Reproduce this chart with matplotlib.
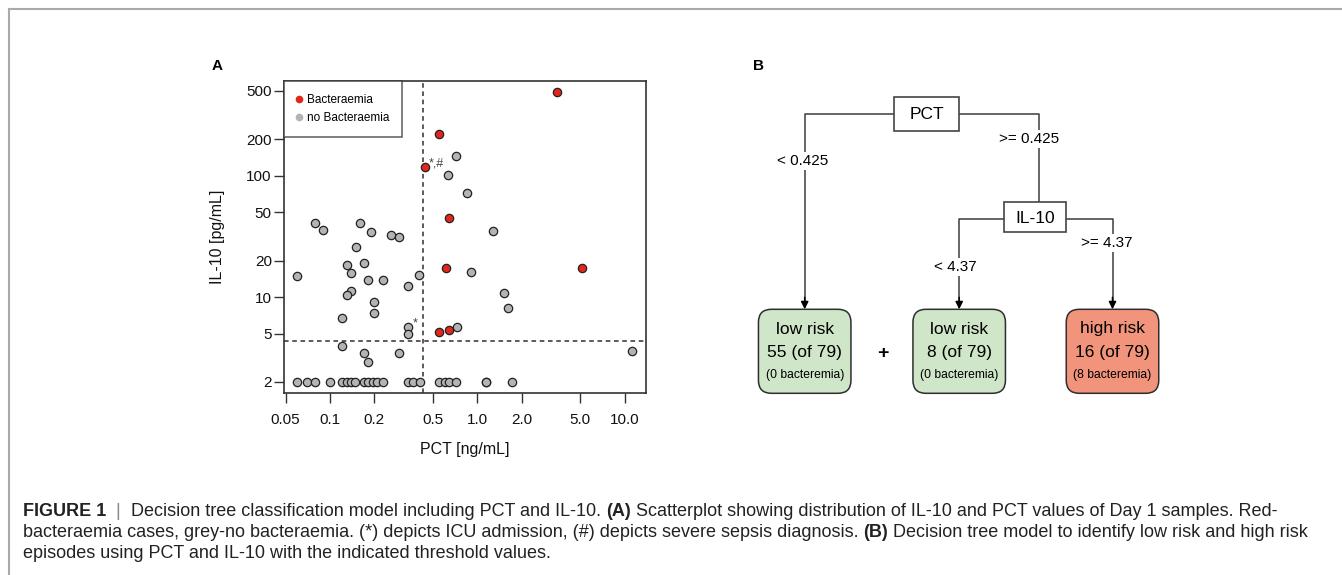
import matplotlib
matplotlib.use('Agg')
import matplotlib.pyplot as plt
from matplotlib.lines import Line2D
from matplotlib.patches import FancyBboxPatch, Rectangle

plt.rcParams['font.family'] = ['Liberation Sans', 'DejaVu Sans']

# ---- panel A data (PCT ng/mL, IL-10 pg/mL) ----
bact_pct = [3.48, 0.55, 0.44, 0.64, 0.61, 5.11, 0.55, 0.64]
bact_il10 = [487, 220, 119, 45.1, 17.2, 17.2, 5.14, 5.31]

nobact_pct = [0.717, 0.632, 0.847, 0.0795, 0.090, 0.160, 0.191, 0.259, 0.292, 1.285,
              0.150, 0.0594, 0.130, 0.140, 0.170, 0.180, 0.230, 0.402, 0.340, 0.902,
              0.140, 0.130, 0.200, 0.200, 1.51, 1.62, 0.120, 0.340, 0.340, 0.724,
              0.120, 0.169, 0.180, 0.292, 11.2,
              0.0594, 0.0694, 0.0795, 0.100, 0.120, 0.130, 0.140, 0.149, 0.170, 0.182,
              0.197, 0.210, 0.230, 0.337, 0.368, 0.408, 0.549, 0.600, 0.643, 0.717,
              1.15, 1.15, 1.72]
nobact_il10 = [145, 102, 72, 40.7, 35.4, 40.7, 34.1, 32.7, 31.2, 34.8,
               26.0, 14.8, 18.4, 15.9, 19.2, 13.7, 13.7, 15.2, 12.3, 16.0,
               11.3, 10.4, 9.15, 7.38, 10.9, 8.06, 6.67, 5.69, 4.92, 5.69,
               3.92, 3.45, 2.91, 3.45, 3.56,
               2, 2, 2, 2, 2, 2, 2, 2, 2, 2,
               2, 2, 2, 2, 2, 2, 2, 2, 2, 2,
               2, 2, 2]

pct_cut = 0.425
il10_cut = 4.37

x_ticks = [0.05, 0.1, 0.2, 0.5, 1.0, 2.0, 5.0, 10.0]
x_ticklabels = ['0.05', '0.1', '0.2', '0.5', '1.0', '2.0', '5.0', '10.0']
y_ticks = [2, 5, 10, 20, 50, 100, 200, 500]
y_ticklabels = ['2', '5', '10', '20', '50', '100', '200', '500']

# annotations: (pct, il10, text)
marks = [(0.44, 119, '*,#'), (0.34, 5.69, '*')]

# ---- panel B data ----
root_label = 'PCT'
split_label = 'IL-10'
edge_labels = ['< 0.425', '>= 0.425', '< 4.37', '>= 4.37']
leaf_titles = ['low risk', 'low risk', 'high risk']
leaf_counts = ['55 (of 79)', '8 (of 79)', '16 (of 79)']
leaf_bact = ['(0 bacteremia)', '(0 bacteremia)', '(8 bacteremia)']

caption = [
    [('FIGURE 1', 'bold', '#222222'), ('  |  ', 'normal', '#888888'),
     ('Decision tree classification model including PCT and IL-10. ', 'normal', '#222222'),
     ('(A)', 'bold', '#222222'),
     (' Scatterplot showing distribution of IL-10 and PCT values of Day 1 samples. Red-', 'normal', '#222222')],
    [('bacteraemia cases, grey-no bacteraemia. (*) depicts ICU admission, (#) depicts severe sepsis diagnosis. ',
      'normal', '#222222'),
     ('(B)', 'bold', '#222222'),
     (' Decision tree model to identify low risk and high risk', 'normal', '#222222')],
    [('episodes using PCT and IL-10 with the indicated threshold values.', 'normal', '#222222')],
]

RED = '#e3261c'
GREY = '#b3b3b3'
DARK = '#333333'

W, H = 1342, 575
fig = plt.figure(figsize=(W / 100, H / 100), dpi=100)

# overlay axes in pixel coordinates (frame, panel B, caption)
ov = fig.add_axes([0, 0, 1, 1])
ov.set_xlim(0, W)
ov.set_ylim(H, 0)
ov.axis('off')

# figure frame (top + left)
ov.plot([9, W], [9, 9], color='#aaaaaa', lw=1.5)
ov.plot([9, 9], [9, H], color='#aaaaaa', lw=1.5)

# ---------------- panel A ----------------
ax = fig.add_axes([284.3 / W, 1 - 393.3 / H, 361.4 / W, 312.6 / H])
ax.set_xscale('log')
ax.set_yscale('log')
ax.set_xlim(0.049, 13.9)
ax.set_ylim(1.61, 607)

ax.scatter(nobact_pct, nobact_il10, s=36, c=GREY, edgecolors='#222222', linewidths=0.9, zorder=3)
ax.scatter(bact_pct, bact_il10, s=36, c=RED, edgecolors='#222222', linewidths=0.9, zorder=4)

ax.axvline(pct_cut, color='#3a2a2a', lw=1.1, ls=(0, (3, 2.4)), zorder=2)
ax.axhline(il10_cut, color='#3a2a2a', lw=1.1, ls=(0, (3, 2.4)), zorder=2)

for px, py, t in marks:
    ax.annotate(t, (px, py), xytext=(3, 2.5), textcoords='offset points',
                fontsize=9, color='#444444', ha='left', va='center')

ax.minorticks_off()
ax.set_xticks(x_ticks)
ax.set_xticklabels(x_ticklabels)
ax.set_yticks(y_ticks)
ax.set_yticklabels(y_ticklabels)
ax.tick_params(axis='both', labelsize=11, length=7, width=1, color=DARK, labelcolor='#111111')
ax.tick_params(axis='x', pad=7)
ax.tick_params(axis='y', pad=2)
for sp in ax.spines.values():
    sp.set_color(DARK)
    sp.set_linewidth(1.2)
ax.set_xlabel('PCT [ng/mL]', fontsize=11.5, labelpad=11, color='#111111')
ax.set_ylabel('IL-10 [pg/mL]', fontsize=11.5, labelpad=15, color='#111111')

handles = [Line2D([], [], marker='o', ls='none', color=RED, markersize=4.5, label='Bacteraemia'),
           Line2D([], [], marker='o', ls='none', color=GREY, markersize=4.5, label='no Bacteraemia')]
leg = ax.legend(handles=handles, loc='upper left', bbox_to_anchor=(0, 1), borderaxespad=0,
                fontsize=8.5, frameon=True, fancybox=False, handlelength=0.3,
                handletextpad=0.5, labelspacing=0.56, borderpad=1.1)
leg.get_frame().set_edgecolor(DARK)
leg.get_frame().set_linewidth(1.1)

ov.text(217, 66, 'A', fontsize=11, fontweight='bold', ha='center', va='center')
ov.text(759, 66, 'B', fontsize=11, fontweight='bold', ha='center', va='center')

# ---------------- panel B (decision tree) ----------------
LC = '#3c3c3c'
root = (926.7, 113.7, 65, 34)
split = (1034.7, 217.3, 62, 30)
leaf_x = [804.7, 959.2, 1112.5]
leaf_top, leaf_bot, leaf_w = 309.3, 393.3, 92.5
leaf_fc = ['#cfe6c8', '#cfe6c8', '#f2937b']


def node(cx, cy, w, h, label):
    ov.add_patch(Rectangle((cx - w / 2, cy - h / 2), w, h, fc='white', ec='#444444', lw=1.2, zorder=3))
    ov.text(cx, cy + 1, label, fontsize=12.5, ha='center', va='center', zorder=4)


node(*root, root_label)
node(*split, split_label)

# root branches
ov.plot([root[0] - root[2] / 2, leaf_x[0], leaf_x[0]], [root[1], root[1], leaf_top - 8], color=LC, lw=1.1, zorder=1)
ov.plot([root[0] + root[2] / 2, 1039, 1039], [root[1], root[1], split[1] - split[3] / 2], color=LC, lw=1.1, zorder=1)
# split branches
ov.plot([split[0] - split[2] / 2, leaf_x[1], leaf_x[1]], [219, 219, leaf_top - 8], color=LC, lw=1.1, zorder=1)
ov.plot([split[0] + split[2] / 2, leaf_x[2], leaf_x[2]], [219, 219, leaf_top - 8], color=LC, lw=1.1, zorder=1)

for lx in leaf_x:
    ov.annotate('', xy=(lx, leaf_top), xytext=(lx, leaf_top - 12),
                arrowprops=dict(arrowstyle='-|>', color='black', lw=1.1, mutation_scale=11,
                                shrinkA=0, shrinkB=0), zorder=2)

lab_pos = [(802.3, 161), (1029.3, 139), (955, 267.3), (1106.7, 243.3)]
for (tx, ty), t in zip(lab_pos, edge_labels):
    ov.text(tx, ty, t, fontsize=11, ha='center', va='center', zorder=3,
            bbox=dict(fc='white', ec='none', pad=1.5))

for i, lx in enumerate(leaf_x):
    ov.add_patch(FancyBboxPatch((lx - leaf_w / 2, leaf_top), leaf_w, leaf_bot - leaf_top,
                                boxstyle='round,pad=0,rounding_size=13', fc=leaf_fc[i],
                                ec='#2e2e2e', lw=1.1, zorder=3))
    ov.text(lx, 329, leaf_titles[i], fontsize=12.5, ha='center', va='center', zorder=4)
    ov.text(lx, 353, leaf_counts[i], fontsize=12.5, ha='center', va='center', zorder=4)
    ov.text(lx, 375, leaf_bact[i], fontsize=8.7, ha='center', va='center', zorder=4)

ov.text(883.3, 353.3, '+', fontsize=14, fontweight='bold', ha='center', va='center')

# ---------------- caption ----------------
fig.canvas.draw()
renderer = fig.canvas.get_renderer()


def line_width(segs, size):
    total = 0
    for txt, weight, col in segs:
        t = ov.text(0, 0, txt, fontsize=size, fontweight=weight)
        total += t.get_window_extent(renderer=renderer).width
        t.remove()
    return total


# size the caption so the second line spans like in the source figure
cap_size = 11 * (1302 - 23) / line_width(caption[1], 11)
line_y = [511, 532.5, 553]
for segs, y in zip(caption, line_y):
    x = 23
    for txt, weight, col in segs:
        t = ov.text(x, y, txt, fontsize=cap_size, fontweight=weight, color=col, ha='left', va='center')
        x += t.get_window_extent(renderer=renderer).width

fig.savefig('out.png', dpi=100)
